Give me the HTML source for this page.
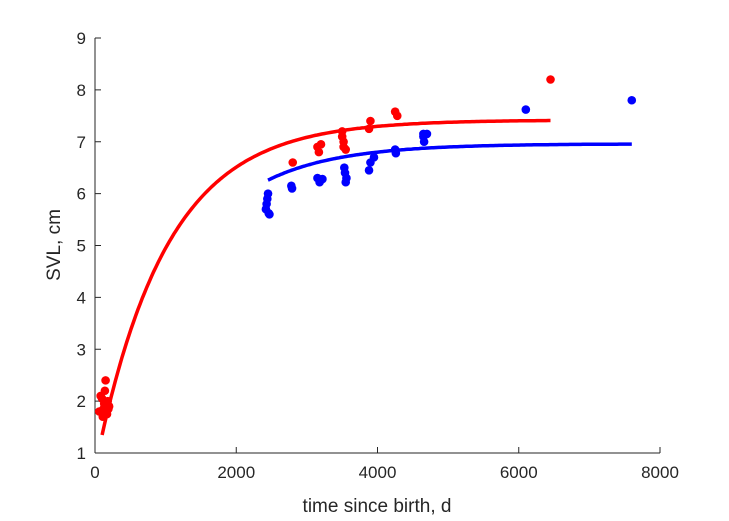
<!DOCTYPE html>
<html><head><meta charset="utf-8"><style>body{margin:0;background:#fff}svg{display:block;font-family:"Liberation Sans",Arial,sans-serif}</style></head>
<body>
<svg id="c" width="729" height="521"></svg>
<script>
const xTicks=[0,2000,4000,6000,8000];
const yTicks=[1,2,3,4,5,6,7,8,9];
const redT=[60,80,100,120,130,140,150,160,170,180,190,200,110,90,2800,3150,3170,3200,3500,3500,3520,3550,3520,3900,3880,4250,4280,6450];
const redL=[1.8,2.1,2.05,1.85,1.95,2.2,2.4,1.9,1.75,2.0,1.85,1.9,1.7,1.8,6.6,6.9,6.8,6.95,7.2,7.1,7.0,6.85,6.9,7.4,7.25,7.58,7.5,8.2];
const blueT=[2420,2430,2440,2450,2460,2470,2780,2790,3150,3180,3220,3530,3540,3560,3550,3900,3880,3950,4250,4260,4650,4660,4700,4650,6100,7600];
const blueL=[5.7,5.8,5.9,6.0,5.62,5.6,6.15,6.1,6.3,6.22,6.28,6.5,6.4,6.3,6.22,6.6,6.45,6.7,6.85,6.78,7.1,7.0,7.15,7.15,7.62,7.8];
// fit params: [Linf, B, k, tStart, tEnd]
const redFit=[7.42,6.71,0.000999,100,6450];
const blueFit=[6.96,7.23,0.000953,2450,7600];
const X=t=>95+t*(565/8000), Y=v=>453-(v-1)*(415/8);
const s=document.getElementById('c'),NS='http://www.w3.org/2000/svg';
function el(tag,a,p){const e=document.createElementNS(NS,tag);for(const k in a)e.setAttribute(k,a[k]);(p||s).appendChild(e);return e;}
let e=el('line',{x1:95,y1:453,x2:660,y2:453,stroke:'#262626'});


e=el('line',{x1:95,y1:38,x2:95,y2:453,stroke:'#262626'});


xTicks.forEach(t=>{el('line',{x1:X(t),y1:453,x2:X(t),y2:447,stroke:'#262626'});
 e=el('text',{x:X(t),y:478,'text-anchor':'middle','font-size':17,fill:'#262626'});e.textContent=t;
 
 });
yTicks.forEach(v=>{el('line',{x1:95,y1:Y(v),x2:101,y2:Y(v),stroke:'#262626'});
 e=el('text',{x:86,y:Y(v)+6,'text-anchor':'end','font-size':17,fill:'#262626'});e.textContent=v;
 
 });
e=el('text',{x:377,y:512,'text-anchor':'middle','font-size':19,fill:'#262626'});e.textContent='time since birth, d';


e=el('text',{x:0,y:0,'text-anchor':'middle','font-size':19,fill:'#262626',transform:'translate(60,245) rotate(-90)'});e.textContent='SVL, cm';


function curve(f,col,name){let d='';for(let i=0;i<=200;i++){const t=f[3]+(f[4]-f[3])*i/200;const v=f[0]-f[1]*Math.exp(-f[2]*t);d+=(i?'L':'M')+X(t).toFixed(1)+','+Y(v).toFixed(1);}
 const p=el('path',{d:d,fill:'none',stroke:col,'stroke-width':3.5});
 
 }
function pts(T,L,col,name){T.forEach((t,i)=>{const c=el('circle',{cx:X(t),cy:Y(L[i]),r:4.3,fill:col});
 
 });}
pts(redT,redL,'#ff0000','red-point');
pts(blueT,blueL,'#0000ff','blue-point');
curve(redFit,'#ff0000','red-fit-curve');
curve(blueFit,'#0000ff','blue-fit-curve');
</script>
</body></html>
